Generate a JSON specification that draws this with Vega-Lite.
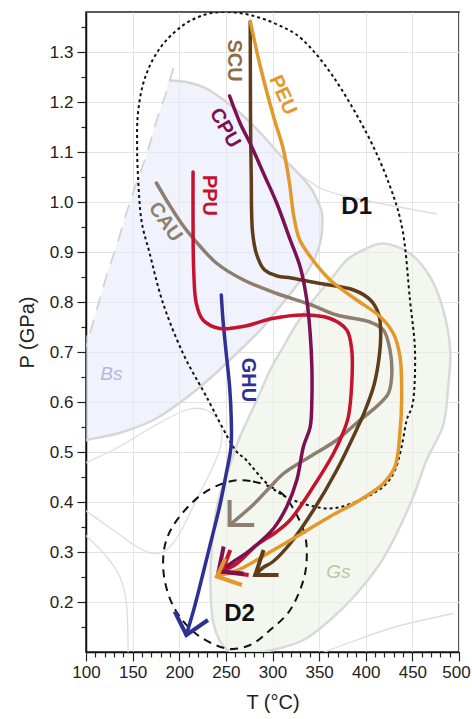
{
  "$schema": "https://vega.github.io/schema/vega-lite/v6.json",
  "width": 373,
  "height": 640,
  "autosize": {"type": "none"},
  "padding": {"left": 86, "top": 12, "right": 13, "bottom": 67},
  "config": {
    "font": "Liberation Sans",
    "view": {"stroke": "#222222", "strokeWidth": 1.5},
    "axis": {
      "domainColor": "#111111", "domainWidth": 1.5,
      "tickColor": "#222222", "tickWidth": 1.2,
      "labelColor": "#222222", "labelFontSize": 17, "labelFont": "Liberation Sans",
      "titleColor": "#222222", "titleFontSize": 20, "titleFontWeight": "normal", "titleFont": "Liberation Sans",
      "gridColor": "#e3e3e3", "gridWidth": 1, "labelOverlap": false, "labelFlush": false
    }
  },
  "datasets": {
    "bsfill": [
      {"i":1,"T":189.7,"P":1.243},{"i":2,"T":207.6,"P":1.24},{"i":3,"T":229.0,"P":1.227},{"i":4,"T":250.4,"P":1.2},
      {"i":5,"T":268.3,"P":1.173},{"i":6,"T":289.7,"P":1.133},{"i":7,"T":308.2,"P":1.094},{"i":8,"T":326.4,"P":1.06},
      {"i":9,"T":340.4,"P":1.03},{"i":10,"T":347.9,"P":1.004},{"i":11,"T":353.3,"P":0.974},{"i":12,"T":351.1,"P":0.918},
      {"i":13,"T":340.4,"P":0.87},{"i":14,"T":322.2,"P":0.824},{"i":15,"T":305.0,"P":0.784},{"i":16,"T":290.0,"P":0.75},
      {"i":17,"T":268.6,"P":0.71},{"i":18,"T":242.9,"P":0.664},{"i":19,"T":218.3,"P":0.624},{"i":20,"T":200.1,"P":0.598},
      {"i":21,"T":172.3,"P":0.564},{"i":22,"T":135.9,"P":0.538},{"i":23,"T":100.5,"P":0.524},{"i":24,"T":96,"P":0.52},
      {"i":25,"T":96,"P":0.72},{"i":26,"T":103.7,"P":0.734},{"i":27,"T":112.3,"P":0.79},{"i":28,"T":123.0,"P":0.858},
      {"i":29,"T":133.7,"P":0.918},{"i":30,"T":144.4,"P":0.984},{"i":31,"T":154.1,"P":1.038},{"i":32,"T":164.8,"P":1.094},
      {"i":33,"T":176.6,"P":1.168},{"i":34,"T":186.2,"P":1.22}
    ],
    "bsborder": [
      {"i":1,"T":189.7,"P":1.243},{"i":2,"T":207.6,"P":1.24},{"i":3,"T":229.0,"P":1.227},{"i":4,"T":250.4,"P":1.2},
      {"i":5,"T":268.3,"P":1.173},{"i":6,"T":289.7,"P":1.133},{"i":7,"T":308.2,"P":1.094},{"i":8,"T":326.4,"P":1.06},
      {"i":9,"T":340.4,"P":1.03},{"i":10,"T":347.9,"P":1.004},{"i":11,"T":353.3,"P":0.974},{"i":12,"T":351.1,"P":0.918},
      {"i":13,"T":340.4,"P":0.87},{"i":14,"T":322.2,"P":0.824},{"i":15,"T":305.0,"P":0.784},{"i":16,"T":290.0,"P":0.75},
      {"i":17,"T":268.6,"P":0.71},{"i":18,"T":242.9,"P":0.664},{"i":19,"T":218.3,"P":0.624},{"i":20,"T":200.1,"P":0.598},
      {"i":21,"T":172.3,"P":0.564},{"i":22,"T":135.9,"P":0.538},{"i":23,"T":100.5,"P":0.524},{"i":24,"T":96,"P":0.522}
    ],
    "gs": [
      {"i":1,"T":418.8,"P":0.917},{"i":2,"T":447.4,"P":0.897},{"i":3,"T":468.8,"P":0.851},{"i":4,"T":483.1,"P":0.784},
      {"i":5,"T":490.6,"P":0.704},{"i":6,"T":488.4,"P":0.631},{"i":7,"T":483.1,"P":0.554},{"i":8,"T":465.3,"P":0.484},
      {"i":9,"T":451.0,"P":0.411},{"i":10,"T":433.2,"P":0.337},{"i":11,"T":415.3,"P":0.277},{"i":12,"T":390.4,"P":0.217},
      {"i":13,"T":361.8,"P":0.164},{"i":14,"T":333.2,"P":0.124},{"i":15,"T":300.0,"P":0.104},{"i":16,"T":275.0,"P":0.099},
      {"i":17,"T":250.4,"P":0.106},{"i":18,"T":237.0,"P":0.155},{"i":19,"T":233.5,"P":0.23},{"i":20,"T":235.0,"P":0.31},
      {"i":21,"T":241.0,"P":0.395},{"i":22,"T":252.0,"P":0.46},{"i":23,"T":265.0,"P":0.53},{"i":24,"T":283.3,"P":0.604},
      {"i":25,"T":297.5,"P":0.664},{"i":26,"T":311.8,"P":0.711},{"i":27,"T":326.1,"P":0.757},{"i":28,"T":343.9,"P":0.804},
      {"i":29,"T":361.8,"P":0.844},{"i":30,"T":379.7,"P":0.884},{"i":31,"T":397.4,"P":0.904}
    ],
    "thin": [
      {"g":"lens","i":1,"T":97,"P":0.476},{"g":"lens","i":2,"T":136.2,"P":0.511},{"g":"lens","i":3,"T":171.9,"P":0.551},
      {"g":"lens","i":4,"T":207.6,"P":0.584},{"g":"lens","i":5,"T":229.0,"P":0.584},{"g":"lens","i":6,"T":243.3,"P":0.557},
      {"g":"lens","i":7,"T":245.1,"P":0.517},{"g":"lens","i":8,"T":236.2,"P":0.471},{"g":"lens","i":9,"T":218.3,"P":0.404},
      {"g":"lens","i":10,"T":200.4,"P":0.337},{"g":"lens","i":11,"T":186.2,"P":0.304},{"g":"lens","i":12,"T":171.9,"P":0.297},
      {"g":"lens","i":13,"T":154.1,"P":0.311},{"g":"lens","i":14,"T":129.1,"P":0.344},{"g":"lens","i":15,"T":97,"P":0.386},
      {"g":"t2","i":1,"T":97,"P":0.338},{"g":"t2","i":2,"T":121.9,"P":0.291},{"g":"t2","i":3,"T":136.2,"P":0.251},
      {"g":"t2","i":4,"T":143.4,"P":0.197},{"g":"t2","i":5,"T":145.2,"P":0.095},
      {"g":"br","i":1,"T":349.0,"P":0.095},{"g":"br","i":2,"T":390.4,"P":0.124},{"g":"br","i":3,"T":433.2,"P":0.151},{"g":"br","i":4,"T":493.8,"P":0.177},
      {"g":"branch","i":1,"T":326.4,"P":1.06},{"g":"branch","i":2,"T":351.1,"P":1.028},{"g":"branch","i":3,"T":377.8,"P":1.012},
      {"g":"branch","i":4,"T":418.5,"P":0.996},{"g":"branch","i":5,"T":476.3,"P":0.976}
    ],
    "dash": [
      {"i":1,"T":193.7,"P":1.268},{"i":2,"T":186.2,"P":1.22},{"i":3,"T":176.6,"P":1.168},{"i":4,"T":164.8,"P":1.094},
      {"i":5,"T":154.1,"P":1.038},{"i":6,"T":144.4,"P":0.984},{"i":7,"T":133.7,"P":0.918},{"i":8,"T":123.0,"P":0.858},
      {"i":9,"T":112.3,"P":0.79},{"i":10,"T":103.7,"P":0.734},{"i":11,"T":98,"P":0.70}
    ],
    "d1": [
      {"i":1,"T":228.0,"P":1.375},{"i":2,"T":252.0,"P":1.38},{"i":3,"T":278.0,"P":1.373},{"i":4,"T":305.0,"P":1.355},
      {"i":5,"T":332.0,"P":1.325},{"i":6,"T":365.0,"P":1.251},
      {"i":7,"T":401.1,"P":1.137},{"i":8,"T":426.1,"P":1.031},{"i":9,"T":440.0,"P":0.938},{"i":10,"T":447.4,"P":0.804},
      {"i":11,"T":452.8,"P":0.704},{"i":12,"T":451.0,"P":0.604},{"i":13,"T":443.9,"P":0.564},{"i":14,"T":438.5,"P":0.511},
      {"i":15,"T":431.4,"P":0.464},{"i":16,"T":418.8,"P":0.431},{"i":17,"T":393.9,"P":0.404},{"i":18,"T":361.8,"P":0.387},
      {"i":19,"T":326.1,"P":0.401},{"i":20,"T":297.5,"P":0.431},{"i":21,"T":271.8,"P":0.484},{"i":22,"T":257.6,"P":0.511},
      {"i":23,"T":229.0,"P":0.611},{"i":24,"T":204.1,"P":0.697},{"i":25,"T":182.7,"P":0.797},{"i":26,"T":168.3,"P":0.897},
      {"i":27,"T":159.4,"P":0.964},{"i":28,"T":155.9,"P":1.047},{"i":29,"T":154.8,"P":1.113},{"i":30,"T":155.9,"P":1.18},
      {"i":31,"T":163.0,"P":1.247},{"i":32,"T":179.0,"P":1.307},{"i":33,"T":203.0,"P":1.352}
    ],
    "d2": [
      {"i":1,"T":254.0,"P":0.441},{"i":2,"T":279.0,"P":0.441},{"i":3,"T":304.7,"P":0.424},{"i":4,"T":318.9,"P":0.397},
      {"i":5,"T":333.2,"P":0.344},{"i":6,"T":336.8,"P":0.297},{"i":7,"T":333.2,"P":0.244},{"i":8,"T":318.9,"P":0.184},
      {"i":9,"T":297.5,"P":0.144},{"i":10,"T":276.1,"P":0.114},{"i":11,"T":251.2,"P":0.107},{"i":12,"T":221.8,"P":0.131},
      {"i":13,"T":200.4,"P":0.171},{"i":14,"T":188.0,"P":0.217},{"i":15,"T":182.7,"P":0.271},{"i":16,"T":186.2,"P":0.324},
      {"i":17,"T":200.4,"P":0.371},{"i":18,"T":225.5,"P":0.417}
    ],
    "paths": [
      {"g":"CAU","i":1,"T":175.5,"P":1.038},{"g":"CAU","i":2,"T":190.5,"P":0.991},{"g":"CAU","i":3,"T":204.8,"P":0.951},
      {"g":"CAU","i":4,"T":222.6,"P":0.911},{"g":"CAU","i":5,"T":240.4,"P":0.877},{"g":"CAU","i":6,"T":269.0,"P":0.844},
      {"g":"CAU","i":7,"T":304.7,"P":0.817},{"g":"CAU","i":8,"T":340.4,"P":0.795},{"g":"CAU","i":9,"T":368.9,"P":0.774},
      {"g":"CAU","i":10,"T":404.6,"P":0.76},{"g":"CAU","i":11,"T":418.9,"P":0.744},{"g":"CAU","i":12,"T":426.0,"P":0.704},
      {"g":"CAU","i":13,"T":427.8,"P":0.651},{"g":"CAU","i":14,"T":424.2,"P":0.617},{"g":"CAU","i":15,"T":411.7,"P":0.591},
      {"g":"CAU","i":16,"T":393.9,"P":0.564},{"g":"CAU","i":17,"T":368.9,"P":0.524},{"g":"CAU","i":18,"T":340.4,"P":0.491},
      {"g":"CAU","i":19,"T":311.8,"P":0.457},{"g":"CAU","i":20,"T":297.5,"P":0.43},{"g":"CAU","i":21,"T":279.0,"P":0.394},
      {"g":"CAU","i":22,"T":254.0,"P":0.354},
      {"g":"GHU","i":1,"T":245.1,"P":0.814},{"g":"GHU","i":2,"T":246.9,"P":0.764},{"g":"GHU","i":3,"T":250.4,"P":0.697},
      {"g":"GHU","i":4,"T":254.0,"P":0.631},{"g":"GHU","i":5,"T":255.8,"P":0.564},{"g":"GHU","i":6,"T":255.5,"P":0.51},
      {"g":"GHU","i":7,"T":250.4,"P":0.457},{"g":"GHU","i":8,"T":243.3,"P":0.391},{"g":"GHU","i":9,"T":234.4,"P":0.324},
      {"g":"GHU","i":10,"T":225.5,"P":0.257},{"g":"GHU","i":11,"T":216.5,"P":0.191},{"g":"GHU","i":12,"T":207.6,"P":0.134},
      {"g":"PPU","i":1,"T":214.8,"P":1.06},{"g":"PPU","i":2,"T":214.8,"P":0.96},{"g":"PPU","i":3,"T":215.5,"P":0.864},
      {"g":"PPU","i":4,"T":218.3,"P":0.797},{"g":"PPU","i":5,"T":225.5,"P":0.764},{"g":"PPU","i":6,"T":243.3,"P":0.747},
      {"g":"PPU","i":7,"T":268.3,"P":0.751},{"g":"PPU","i":8,"T":300.0,"P":0.767},{"g":"PPU","i":9,"T":333.2,"P":0.774},
      {"g":"PPU","i":10,"T":361.8,"P":0.767},{"g":"PPU","i":11,"T":379.6,"P":0.744},{"g":"PPU","i":12,"T":385.0,"P":0.704},
      {"g":"PPU","i":13,"T":385.0,"P":0.637},{"g":"PPU","i":14,"T":381.4,"P":0.571},{"g":"PPU","i":15,"T":376.0,"P":0.54},
      {"g":"PPU","i":16,"T":365.4,"P":0.497},{"g":"PPU","i":17,"T":343.9,"P":0.431},{"g":"PPU","i":18,"T":318.9,"P":0.364},
      {"g":"PPU","i":19,"T":304.0,"P":0.34},{"g":"PPU","i":20,"T":283.3,"P":0.314},{"g":"PPU","i":21,"T":261.9,"P":0.277},
      {"g":"PPU","i":22,"T":245.8,"P":0.261},
      {"g":"SCU","i":1,"T":276.1,"P":1.361},{"g":"SCU","i":2,"T":276.3,"P":1.25},{"g":"SCU","i":3,"T":276.5,"P":1.15},
      {"g":"SCU","i":4,"T":277.2,"P":1.05},{"g":"SCU","i":5,"T":278.6,"P":0.94},{"g":"SCU","i":6,"T":283.0,"P":0.895},
      {"g":"SCU","i":7,"T":291.0,"P":0.865},{"g":"SCU","i":8,"T":305.0,"P":0.852},{"g":"SCU","i":9,"T":320.0,"P":0.848},
      {"g":"SCU","i":10,"T":351.0,"P":0.837},{"g":"SCU","i":11,"T":387.0,"P":0.824},{"g":"SCU","i":12,"T":405.0,"P":0.804},
      {"g":"SCU","i":13,"T":414.0,"P":0.775},{"g":"SCU","i":14,"T":416.0,"P":0.74},{"g":"SCU","i":15,"T":415.0,"P":0.70},
      {"g":"SCU","i":16,"T":409.0,"P":0.635},{"g":"SCU","i":17,"T":398.0,"P":0.577},{"g":"SCU","i":18,"T":390.0,"P":0.544},
      {"g":"SCU","i":19,"T":369.0,"P":0.464},{"g":"SCU","i":20,"T":344.0,"P":0.384},{"g":"SCU","i":21,"T":319.0,"P":0.317},
      {"g":"SCU","i":22,"T":300.0,"P":0.28},{"g":"SCU","i":23,"T":290.0,"P":0.269},{"g":"SCU","i":24,"T":281.5,"P":0.254},
      {"g":"CPU","i":1,"T":254.0,"P":1.212},{"g":"CPU","i":2,"T":265.4,"P":1.157},{"g":"CPU","i":3,"T":276.1,"P":1.117},
      {"g":"CPU","i":4,"T":290.4,"P":1.057},{"g":"CPU","i":5,"T":304.7,"P":0.997},{"g":"CPU","i":6,"T":318.9,"P":0.925},
      {"g":"CPU","i":7,"T":329.7,"P":0.87},{"g":"CPU","i":8,"T":336.8,"P":0.804},{"g":"CPU","i":9,"T":340.4,"P":0.737},
      {"g":"CPU","i":10,"T":342.2,"P":0.671},{"g":"CPU","i":11,"T":342.2,"P":0.604},{"g":"CPU","i":12,"T":340.4,"P":0.55},
      {"g":"CPU","i":13,"T":333.2,"P":0.511},{"g":"CPU","i":14,"T":326.1,"P":0.444},{"g":"CPU","i":15,"T":315.4,"P":0.391},
      {"g":"CPU","i":16,"T":301.1,"P":0.347},{"g":"CPU","i":17,"T":276.1,"P":0.304},{"g":"CPU","i":18,"T":258.3,"P":0.281},
      {"g":"CPU","i":19,"T":242.2,"P":0.261},
      {"g":"PEU","i":1,"T":276.2,"P":1.361},{"g":"PEU","i":2,"T":286.9,"P":1.271},{"g":"PEU","i":3,"T":301.1,"P":1.171},
      {"g":"PEU","i":4,"T":311.8,"P":1.104},{"g":"PEU","i":5,"T":318.0,"P":1.04},{"g":"PEU","i":6,"T":323.0,"P":0.97},
      {"g":"PEU","i":7,"T":329.0,"P":0.925},{"g":"PEU","i":8,"T":340.4,"P":0.891},{"g":"PEU","i":9,"T":361.8,"P":0.844},
      {"g":"PEU","i":10,"T":390.3,"P":0.804},{"g":"PEU","i":11,"T":415.3,"P":0.771},{"g":"PEU","i":12,"T":429.6,"P":0.737},
      {"g":"PEU","i":13,"T":436.7,"P":0.691},{"g":"PEU","i":14,"T":438.5,"P":0.604},{"g":"PEU","i":15,"T":436.7,"P":0.54},
      {"g":"PEU","i":16,"T":431.4,"P":0.471},{"g":"PEU","i":17,"T":418.9,"P":0.437},{"g":"PEU","i":18,"T":393.9,"P":0.404},
      {"g":"PEU","i":19,"T":361.8,"P":0.371},{"g":"PEU","i":20,"T":329.7,"P":0.335},{"g":"PEU","i":21,"T":297.5,"P":0.3},
      {"g":"PEU","i":22,"T":265.4,"P":0.266},{"g":"PEU","i":23,"T":240.4,"P":0.251}
    ],
    "heads": [
      {"g":"CAU","i":1,"T":254.0,"P":0.404},{"g":"CAU","i":2,"T":254.0,"P":0.354},{"g":"CAU","i":3,"T":280.4,"P":0.354},
      {"g":"GHU","i":1,"T":195.1,"P":0.181},{"g":"GHU","i":2,"T":207.6,"P":0.134},{"g":"GHU","i":3,"T":230.8,"P":0.164},
      {"g":"PPU","i":1,"T":254.7,"P":0.304},{"g":"PPU","i":2,"T":245.8,"P":0.261},{"g":"PPU","i":3,"T":274.4,"P":0.254},
      {"g":"SCU","i":1,"T":290.4,"P":0.304},{"g":"SCU","i":2,"T":281.5,"P":0.254},{"g":"SCU","i":3,"T":306.5,"P":0.254},
      {"g":"CPU","i":1,"T":247.6,"P":0.311},{"g":"CPU","i":2,"T":242.2,"P":0.261},{"g":"CPU","i":3,"T":269.0,"P":0.257},
      {"g":"PEU","i":1,"T":249.4,"P":0.287},{"g":"PEU","i":2,"T":240.4,"P":0.251},{"g":"PEU","i":3,"T":267.2,"P":0.234}
    ],
    "labels": [
      {"name":"SCU","T":258.6,"P":1.283},{"name":"PEU","T":311.1,"P":1.214},{"name":"CPU","T":249.0,"P":1.148},
      {"name":"PPU","T":231.9,"P":1.013},{"name":"CAU","T":185.1,"P":0.96},{"name":"GHU","T":273.6,"P":0.644},
      {"name":"D1","T":390.3,"P":0.991},{"name":"D2","T":264.7,"P":0.177},
      {"name":"Bs","T":127.3,"P":0.657},{"name":"Gs","T":370.7,"P":0.26}
    ]
  },
  "encoding": {
    "x": {
      "field": "T", "type": "quantitative",
      "scale": {"domain": [100, 500], "nice": false, "zero": false},
      "axis": {
        "title": "T (°C)", "titlePadding": 12,
        "values": [100,110,120,130,140,150,160,170,180,190,200,210,220,230,240,250,260,270,280,290,300,310,320,330,340,350,360,370,380,390,400,410,420,430,440,450,460,470,480,490,500],
        "labelExpr": "datum.value % 50 == 0 ? datum.label : ''",
        "labelOffset": {"condition": {"test": "datum.value == 500", "value": -3}, "value": 0},
        "tickSize": {"condition": {"test": "datum.value % 50 != 0", "value": 5}, "value": 9},
        "gridOpacity": {"condition": {"test": "datum.value % 50 != 0", "value": 0}, "value": 1},
        "labelPadding": 3
      }
    },
    "y": {
      "field": "P", "type": "quantitative",
      "scale": {"domain": [0.1, 1.38], "nice": false, "zero": false},
      "axis": {
        "title": "P (GPa)", "titlePadding": 12,
        "values": [0.15,0.2,0.25,0.3,0.35,0.4,0.45,0.5,0.55,0.6,0.65,0.7,0.75,0.8,0.85,0.9,0.95,1.0,1.05,1.1,1.15,1.2,1.25,1.3,1.35],
        "labelExpr": "round(datum.value*20) % 2 == 0 ? format(datum.value, '.1f') : ''",
        "tickSize": {"condition": {"test": "round(datum.value*20) % 2 == 1", "value": 5}, "value": 9},
        "gridOpacity": {"condition": {"test": "round(datum.value*20) % 2 == 1", "value": 0}, "value": 1},
        "labelPadding": 4
      }
    }
  },
  "layer": [
    {"data": {"name": "bsfill"}, "mark": {"type": "line", "interpolate": "cardinal-closed", "clip": true, "fill": "#e8ebfa", "opacity": 0.6, "strokeWidth": 0}, "encoding": {"order": {"field": "i", "type": "quantitative"}}},
    {"data": {"name": "gs"}, "mark": {"type": "line", "interpolate": "cardinal-closed", "clip": true, "fill": "#edf2e4", "opacity": 0.6, "strokeWidth": 0}, "encoding": {"order": {"field": "i", "type": "quantitative"}}},
    {"data": {"name": "gs"}, "mark": {"type": "line", "interpolate": "cardinal-closed", "clip": true, "stroke": "#d9d9d9", "strokeWidth": 2.5}, "encoding": {"order": {"field": "i", "type": "quantitative"}}},
    {"data": {"name": "bsborder"}, "mark": {"type": "line", "interpolate": "cardinal", "clip": true, "stroke": "#d6d6d6", "strokeWidth": 2.5}, "encoding": {"order": {"field": "i", "type": "quantitative"}}},
    {"data": {"name": "thin"}, "mark": {"type": "line", "interpolate": "cardinal", "clip": true, "stroke": "#dddddd", "strokeWidth": 1.3}, "encoding": {"order": {"field": "i", "type": "quantitative"}, "detail": {"field": "g", "type": "nominal"}}},
    {"data": {"name": "dash"}, "mark": {"type": "line", "interpolate": "cardinal", "clip": true, "stroke": "#d0d0d0", "strokeWidth": 1.6, "strokeDash": [14, 10]}, "encoding": {"order": {"field": "i", "type": "quantitative"}}},
    {"data": {"name": "d1"}, "mark": {"type": "line", "interpolate": "cardinal-closed", "clip": true, "stroke": "#111111", "strokeWidth": 2, "strokeDash": [3, 3]}, "encoding": {"order": {"field": "i", "type": "quantitative"}}},
    {"data": {"name": "d2"}, "mark": {"type": "line", "interpolate": "cardinal-closed", "clip": true, "stroke": "#111111", "strokeWidth": 2, "strokeDash": [8, 6]}, "encoding": {"order": {"field": "i", "type": "quantitative"}}},
    {"data": {"name": "paths"}, "mark": {"type": "line", "interpolate": "catmull-rom", "strokeWidth": 3.5, "strokeCap": "round", "strokeJoin": "round"}, "encoding": {
      "order": {"field": "i", "type": "quantitative"},
      "color": {"field": "g", "type": "nominal", "legend": null, "sort": null, "scale": {"domain": ["CAU","GHU","PPU","SCU","CPU","PEU"], "range": ["#8d7e6f","#2e3192","#c4122f","#5e3c1c","#7b1152","#e3982b"]}}
    }},
    {"data": {"name": "heads"}, "mark": {"type": "line", "interpolate": "linear", "strokeWidth": 4, "strokeCap": "butt", "strokeJoin": "miter"}, "encoding": {
      "order": {"field": "i", "type": "quantitative"},
      "color": {"field": "g", "type": "nominal", "legend": null, "sort": null, "scale": {"domain": ["CAU","GHU","PPU","SCU","CPU","PEU"], "range": ["#8d7e6f","#2e3192","#c4122f","#5e3c1c","#7b1152","#e3982b"]}}
    }},
    {"data": {"name": "labels"}, "transform": [{"filter": "datum.name == 'SCU'"}], "mark": {"type": "text", "angle": 90, "fontSize": 20, "fontWeight": "bold", "color": "#8e6d45", "align": "center", "baseline": "middle"}, "encoding": {"text": {"field": "name"}}},
    {"data": {"name": "labels"}, "transform": [{"filter": "datum.name == 'PEU'"}], "mark": {"type": "text", "angle": 66, "fontSize": 20, "fontWeight": "bold", "color": "#e3982b", "align": "center", "baseline": "middle"}, "encoding": {"text": {"field": "name"}}},
    {"data": {"name": "labels"}, "transform": [{"filter": "datum.name == 'CPU'"}], "mark": {"type": "text", "angle": 60, "fontSize": 20, "fontWeight": "bold", "color": "#7b1152", "align": "center", "baseline": "middle"}, "encoding": {"text": {"field": "name"}}},
    {"data": {"name": "labels"}, "transform": [{"filter": "datum.name == 'PPU'"}], "mark": {"type": "text", "angle": 90, "fontSize": 20, "fontWeight": "bold", "color": "#c4122f", "align": "center", "baseline": "middle"}, "encoding": {"text": {"field": "name"}}},
    {"data": {"name": "labels"}, "transform": [{"filter": "datum.name == 'CAU'"}], "mark": {"type": "text", "angle": 55, "fontSize": 20, "fontWeight": "bold", "color": "#8d7e6f", "align": "center", "baseline": "middle"}, "encoding": {"text": {"field": "name"}}},
    {"data": {"name": "labels"}, "transform": [{"filter": "datum.name == 'GHU'"}], "mark": {"type": "text", "angle": 90, "fontSize": 20, "fontWeight": "bold", "color": "#2e3192", "align": "center", "baseline": "middle"}, "encoding": {"text": {"field": "name"}}},
    {"data": {"name": "labels"}, "transform": [{"filter": "datum.name == 'D1' || datum.name == 'D2'"}], "mark": {"type": "text", "fontSize": 24, "fontWeight": "bold", "color": "#111111", "align": "center", "baseline": "middle"}, "encoding": {"text": {"field": "name"}}},
    {"data": {"name": "labels"}, "transform": [{"filter": "datum.name == 'Bs'"}], "mark": {"type": "text", "fontSize": 19, "fontStyle": "italic", "color": "#b3b7e3", "align": "center", "baseline": "middle"}, "encoding": {"text": {"field": "name"}}},
    {"data": {"name": "labels"}, "transform": [{"filter": "datum.name == 'Gs'"}], "mark": {"type": "text", "fontSize": 19, "fontStyle": "italic", "color": "#b5c9a0", "align": "center", "baseline": "middle"}, "encoding": {"text": {"field": "name"}}}
  ]
}
